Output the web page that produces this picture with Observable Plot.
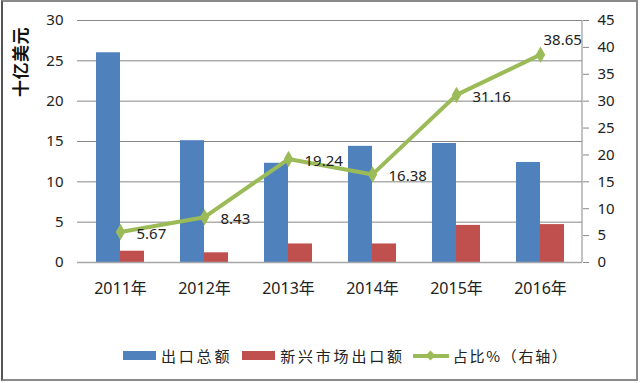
<!DOCTYPE html>
<html><head><meta charset="utf-8">
<script src="https://cdn.jsdelivr.net/npm/d3@7"></script>
<script src="https://cdn.jsdelivr.net/npm/@observablehq/plot@0.6"></script>
<style>
body{margin:0;background:#fff;}
#wrap{position:relative;width:640px;height:383px;overflow:hidden;font-family:"Noto Sans","Noto Sans CJK SC",sans-serif;}
#frame{position:absolute;left:1px;top:0;width:633px;height:377px;border:2px solid #8a8a8a;border-left-color:#555;pointer-events:none;}
#ytitle{position:absolute;left:19px;top:62px;transform:translate(-50%,-50%) rotate(-90deg);font-family:"Noto Sans CJK SC",sans-serif;font-size:17px;font-weight:bold;color:#111;white-space:nowrap;letter-spacing:0.5px;}
#legend{position:absolute;top:345px;left:123px;font-family:"Noto Sans CJK SC",sans-serif;font-size:15px;letter-spacing:2.8px;color:#222;display:flex;align-items:center;white-space:nowrap;}
.sw{display:inline-block;width:33px;height:9px;margin-right:5px;}
.item{display:flex;align-items:center;margin-right:10px;}
.ln{position:relative;display:inline-block;width:36px;height:4px;background:#9BBB59;margin-right:4px;}
.ln::after{content:"";position:absolute;left:14px;top:-2px;width:7px;height:7px;background:#9BBB59;transform:rotate(45deg);}
</style></head>
<body><div id="wrap"><div id="chart"></div>
<div id="ytitle">十亿美元</div>
<div id="legend">
<span class="item"><span class="sw" style="background:#4F81BD"></span>出口总额</span>
<span class="item" style="margin-right:8px"><span class="sw" style="background:#C0504D"></span>新兴市场出口额</span>
<span class="item" style="letter-spacing:1.7px"><span class="ln"></span>占比%（右轴）</span>
</div>
<div id="frame"></div></div>
<script>
const years = ["2011年","2012年","2013年","2014年","2015年","2016年"];
const totalExports = [26.0, 15.1, 12.3, 14.4, 14.75, 12.4];
const emergingExports = [1.4, 1.2, 2.3, 2.3, 4.6, 4.7];
const sharePct = [5.67, 8.43, 19.24, 16.38, 31.16, 38.65];
const leftTicks = [0,5,10,15,20,25,30];
const rightTicks = [0,5,10,15,20,25,30,35,40,45];
const leftMax = 30, rightMax = 45;
const toLeft = v => v * leftMax / rightMax;

const rows = years.map((y,i)=>({year:y,total:totalExports[i],emerging:emergingExports[i],share:sharePct[i],shareL:toLeft(sharePct[i]),i}));
const font = "'Noto Sans','Noto Sans CJK SC',sans-serif";

// right axis line, drawn from the plot's own dimensions
function rightAxisLine(index, scales, values, dim) {
  const x = dim.width - dim.marginRight;
  const l = document.createElementNS("http://www.w3.org/2000/svg","line");
  l.setAttribute("x1", x); l.setAttribute("x2", x);
  l.setAttribute("y1", scales.y(leftMax)); l.setAttribute("y2", scales.y(0));
  l.setAttribute("stroke", "#878787");
  return l;
}

const chart = Plot.plot({
  width:640, height:383,
  marginLeft:77, marginRight:58, marginTop:20, marginBottom:121,
  style:{fontFamily:font, fontSize:"15px", color:"#222", background:"transparent"},
  x:{domain:years, paddingInner:0.43, paddingOuter:0.215, align:0.5},
  y:{domain:[0,leftMax]},
  marks:[
    Plot.gridY(leftTicks.filter(d=>d>0),{stroke:"#878787",strokeOpacity:1}),
    Plot.barY(rows,{x:"year",y:"total",fill:"#4F81BD",insetRight:24,insetLeft:0}),
    Plot.barY(rows,{x:"year",y:"emerging",fill:"#C0504D",insetLeft:24,insetRight:0}),
    Plot.ruleY([0],{stroke:"#a6a6a6",strokeWidth:1.5}),
    rightAxisLine,
    Plot.axisY({ticks:leftTicks,tickSize:0,tickPadding:14,label:null,fontSize:15}),
    Plot.axisY({anchor:"right",ticks:rightTicks.map(toLeft),tickFormat:d=>String(Math.round(d*rightMax/leftMax)),tickSize:6,tickPadding:9,label:null,fontSize:15,stroke:"#878787"}),
    Plot.axisX({tickSize:0,tickPadding:20,label:null,fontSize:16}),
    Plot.line(rows,{x:"year",y:"shareL",stroke:"#9BBB59",strokeWidth:4}),
    Plot.dot(rows,{x:"year",y:"shareL",symbol:"diamond",r:5,fill:"#9BBB59",stroke:"none"}),
    Plot.text(rows.filter(d=>d.i<5),{x:"year",y:"shareL",text:d=>d.share.toFixed(2),textAnchor:"start",dx:16,dy:2,fontSize:15,fill:"#222"}),
    Plot.text(rows.filter(d=>d.i===5),{x:"year",y:"shareL",text:d=>d.share.toFixed(2),textAnchor:"start",dx:3,dy:-14,fontSize:15,fill:"#222"})
  ]
});
document.getElementById("chart").append(chart);
</script></body></html>
